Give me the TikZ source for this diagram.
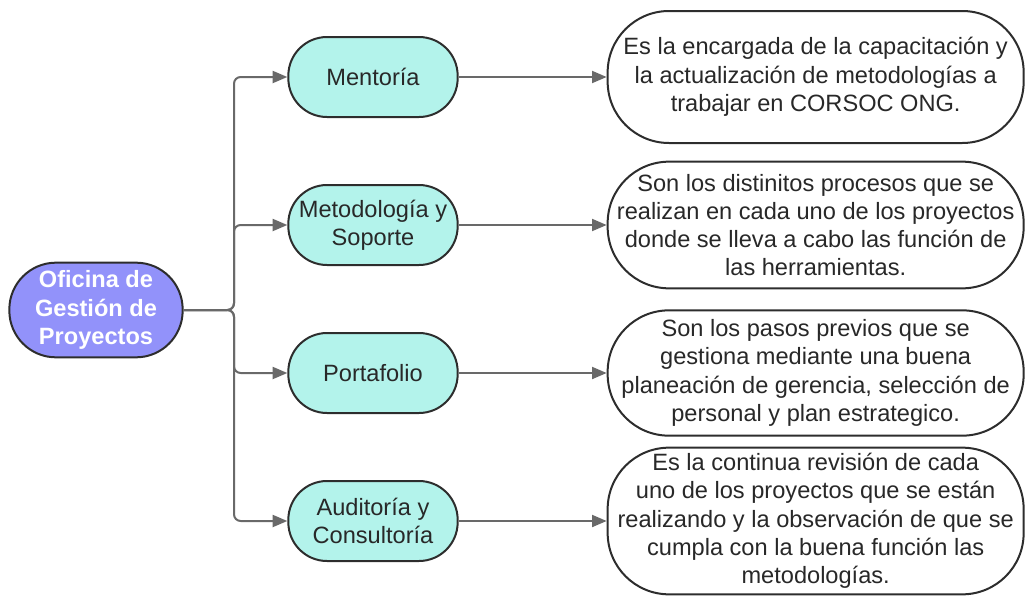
\documentclass[tikz,border=0pt]{standalone}
\usepackage{fontspec}
\setmainfont{Liberation Sans}
\usetikzlibrary{arrows.meta}
\definecolor{rootblue}{RGB}{146,146,250}
\definecolor{mint}{RGB}{179,243,235}
\definecolor{edge}{RGB}{45,45,45}
\definecolor{wire}{RGB}{105,105,105}
\definecolor{txt}{RGB}{40,40,40}

\begin{document}
\begin{tikzpicture}[
    x=0.75pt, y=-0.75pt,
    node distance=111pt,
    font=\fontsize{17.7}{21.2}\selectfont,
    root/.style={draw=edge, line width=1.5pt, fill=rootblue, rounded corners=35pt,
                 minimum width=130pt, minimum height=71pt, align=center,
                 text=white, font=\fontsize{17.7}{21.2}\selectfont\bfseries},
    topic/.style={draw=edge, line width=1.5pt, fill=mint, rounded corners=29pt,
                  minimum width=127pt, minimum height=60pt, align=center, text=txt},
    desc/.style={draw=edge, line width=1.5pt, fill=white, rounded corners=46pt,
                 minimum width=312pt, minimum height=94pt, align=center, text=txt,
                 inner sep=2pt},
    link/.style={draw=wire, line width=1.5pt, rounded corners=5pt,
                 -{Triangle[length=11pt,width=9pt]}}
]
\useasboundingbox (0,0) rectangle (1026,600);

\node (root) [root] at (96,310) {Oficina de\\Gestión de\\Proyectos};
\coordinate (bus) at (234,310);

\node (mentoria) [topic] at (373,77) {Mentoría};
\node (metodo) [topic, below of=mentoria] {Metodología y\\Soporte};
\node (portafolio) [topic, below of=metodo] {Portafolio};
\node (auditoria) [topic, below of=portafolio] {Auditoría y\\Consultoría};

\node (dmentoria) [desc, right of=mentoria, node distance=332pt, minimum height=99pt]
  {Es la encargada de la capacitación y\\la actualización de metodologías a\\trabajar en CORSOC ONG.};
\node (dmetodo) [desc, right of=metodo, node distance=332pt, minimum height=95pt]
  {Son los distinitos procesos que se\\realizan en cada uno de los proyectos\\donde se lleva a cabo las función de\\las herramientas.};
\node (dportafolio) [desc, right of=portafolio, node distance=332pt]
  {Son los pasos previos que se\\gestiona mediante una buena\\planeación de gerencia, selección de\\personal y plan estrategico.};
\node (dauditoria) [desc, right of=auditoria, node distance=332pt, minimum height=110pt]
  {Es la continua revisión de cada\\uno de los proyectos que se están\\realizando y la observación de que se\\cumpla con la buena función las\\metodologías.};

\draw [link] (root.east) -- (bus) |- (mentoria.west);
\draw [link] (root.east) -- (bus) |- (metodo.west);
\draw [link] (root.east) -- (bus) |- (portafolio.west);
\draw [link] (root.east) -- (bus) |- (auditoria.west);

\draw [link] (mentoria) -- (dmentoria);
\draw [link] (metodo) -- (dmetodo);
\draw [link] (portafolio) -- (dportafolio);
\draw [link] (auditoria) -- (dauditoria);
\end{tikzpicture}
\end{document}
